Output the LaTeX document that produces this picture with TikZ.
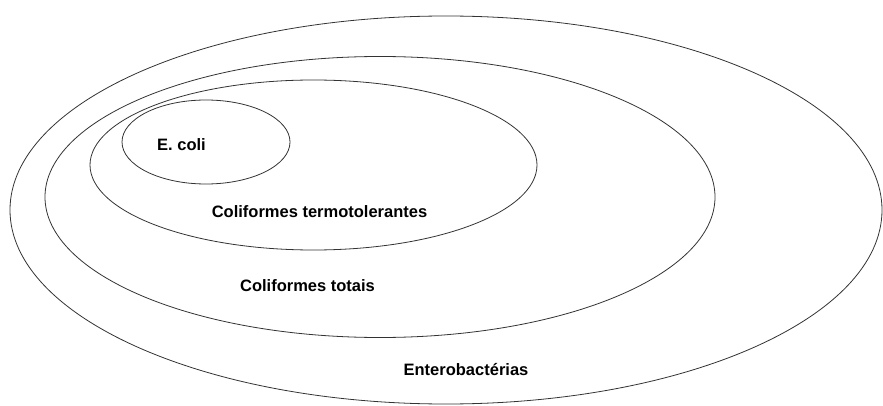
\documentclass[tikz,border=0pt]{standalone}
\usepackage{fontspec}
\setmainfont{Liberation Sans}
\usetikzlibrary{shapes.geometric, positioning}
\tikzset{
  setbox/.style={ellipse,draw=black!80,line width=0.8pt,inner sep=0pt},
  setlabel/.style={font=\fontsize{16.5pt}{18pt}\selectfont\bfseries,inner sep=1pt}
}
\begin{document}
\begin{tikzpicture}[x=1pt,y=-1pt]
  \useasboundingbox (0,0) rectangle (883,406);
  % nested sets
  \node[setbox,minimum width=872pt,minimum height=388pt] (entero) at (446,210) {};
  \node[setbox,minimum width=670pt,minimum height=281pt] (totais) at (380,197) {};
  \node[setbox,minimum width=447pt,minimum height=170pt] (termo) at (313.5,165) {};
  \node[setbox,minimum width=168pt,minimum height=84pt] (ecoli) at (206,142) {};

  \node[setlabel] (ecolilbl) at (181.5,145) {E. coli};
  \node[setlabel] (termolbl) at (319.5,212) {Coliformes termotolerantes};
  \node[setlabel] (totaislbl) at (307.5,286) {Coliformes totais};
  \node[setlabel] (enterolbl) at (466,370) {Enterobactérias};
\end{tikzpicture}
\end{document}
